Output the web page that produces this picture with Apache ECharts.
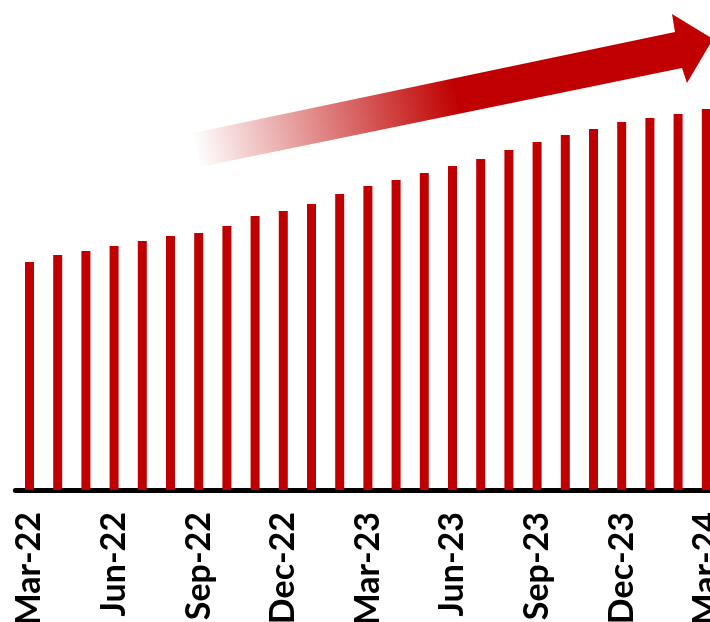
<!DOCTYPE html>
<html>
<head>
<meta charset="utf-8">
<script src="https://cdn.jsdelivr.net/npm/echarts@6/dist/echarts.min.js"></script>
<style>
  html, body { margin: 0; padding: 0; background: #ffffff; }
  #wrap { width: 710px; height: 622px; overflow: hidden; position: relative; }
  #chart { position: absolute; left: 0; top: 0; width: 722px; height: 622px; }
</style>
</head>
<body>
<div id="wrap"><div id="chart"></div></div>
<script>
// Monthly periods, Mar-22 through Mar-24
const months = [
  'Mar-22','Apr-22','May-22','Jun-22','Jul-22','Aug-22','Sep-22','Oct-22','Nov-22','Dec-22',
  'Jan-23','Feb-23','Mar-23','Apr-23','May-23','Jun-23','Jul-23','Aug-23','Sep-23','Oct-23',
  'Nov-23','Dec-23','Jan-24','Feb-24','Mar-24'
];

// Monthly values (index units)
const values = [
  228, 235, 239, 244, 249, 254, 257, 264, 274, 279,
  286, 296, 304, 310, 317, 324, 331, 340, 348, 355,
  361, 368, 372, 376, 381
];

const barColor = '#C00000';

const chart = echarts.init(document.getElementById('chart'), null, { renderer: 'canvas' });

chart.setOption({
  animation: false,
  backgroundColor: '#ffffff',
  // plot area runs slightly past the right edge of the visible page;
  // long rotated labels are allowed to run off the bottom
  grid: { left: 15.4, right: 1.6, top: 0, bottom: 132, containLabel: false, outerBoundsMode: 'none' },
  xAxis: {
    type: 'category',
    data: months,
    boundaryGap: true,
    axisLine: { show: true, lineStyle: { color: '#000000', width: 5 } },
    axisTick: { show: false },
    axisLabel: {
      interval: 2,
      rotate: 90,
      margin: 22,
      color: '#000000',
      fontFamily: 'Lato, "Noto Sans", sans-serif',
      fontWeight: 'bold',
      fontSize: 34
    }
  },
  yAxis: {
    type: 'value',
    min: 0,
    max: 490,
    show: false,
    splitLine: { show: false }
  },
  series: [{
    type: 'bar',
    data: values,
    barWidth: 9,
    itemStyle: { color: barColor }
  }],
  graphic: [{
    // Trend arrow fading in from the left
    type: 'polygon',
    z: 10,
    shape: {
      points: [
        [193, 133], [675, 32], [672, 14], [713, 39],
        [687, 83], [682, 68], [200, 167]
      ]
    },
    style: {
      fill: new echarts.graphic.LinearGradient(195, 150, 457, 96, [
        { offset: 0, color: 'rgba(192,0,0,0)' },
        { offset: 1, color: 'rgba(192,0,0,1)' }
      ], true)
    }
  }]
});
</script>
</body>
</html>
